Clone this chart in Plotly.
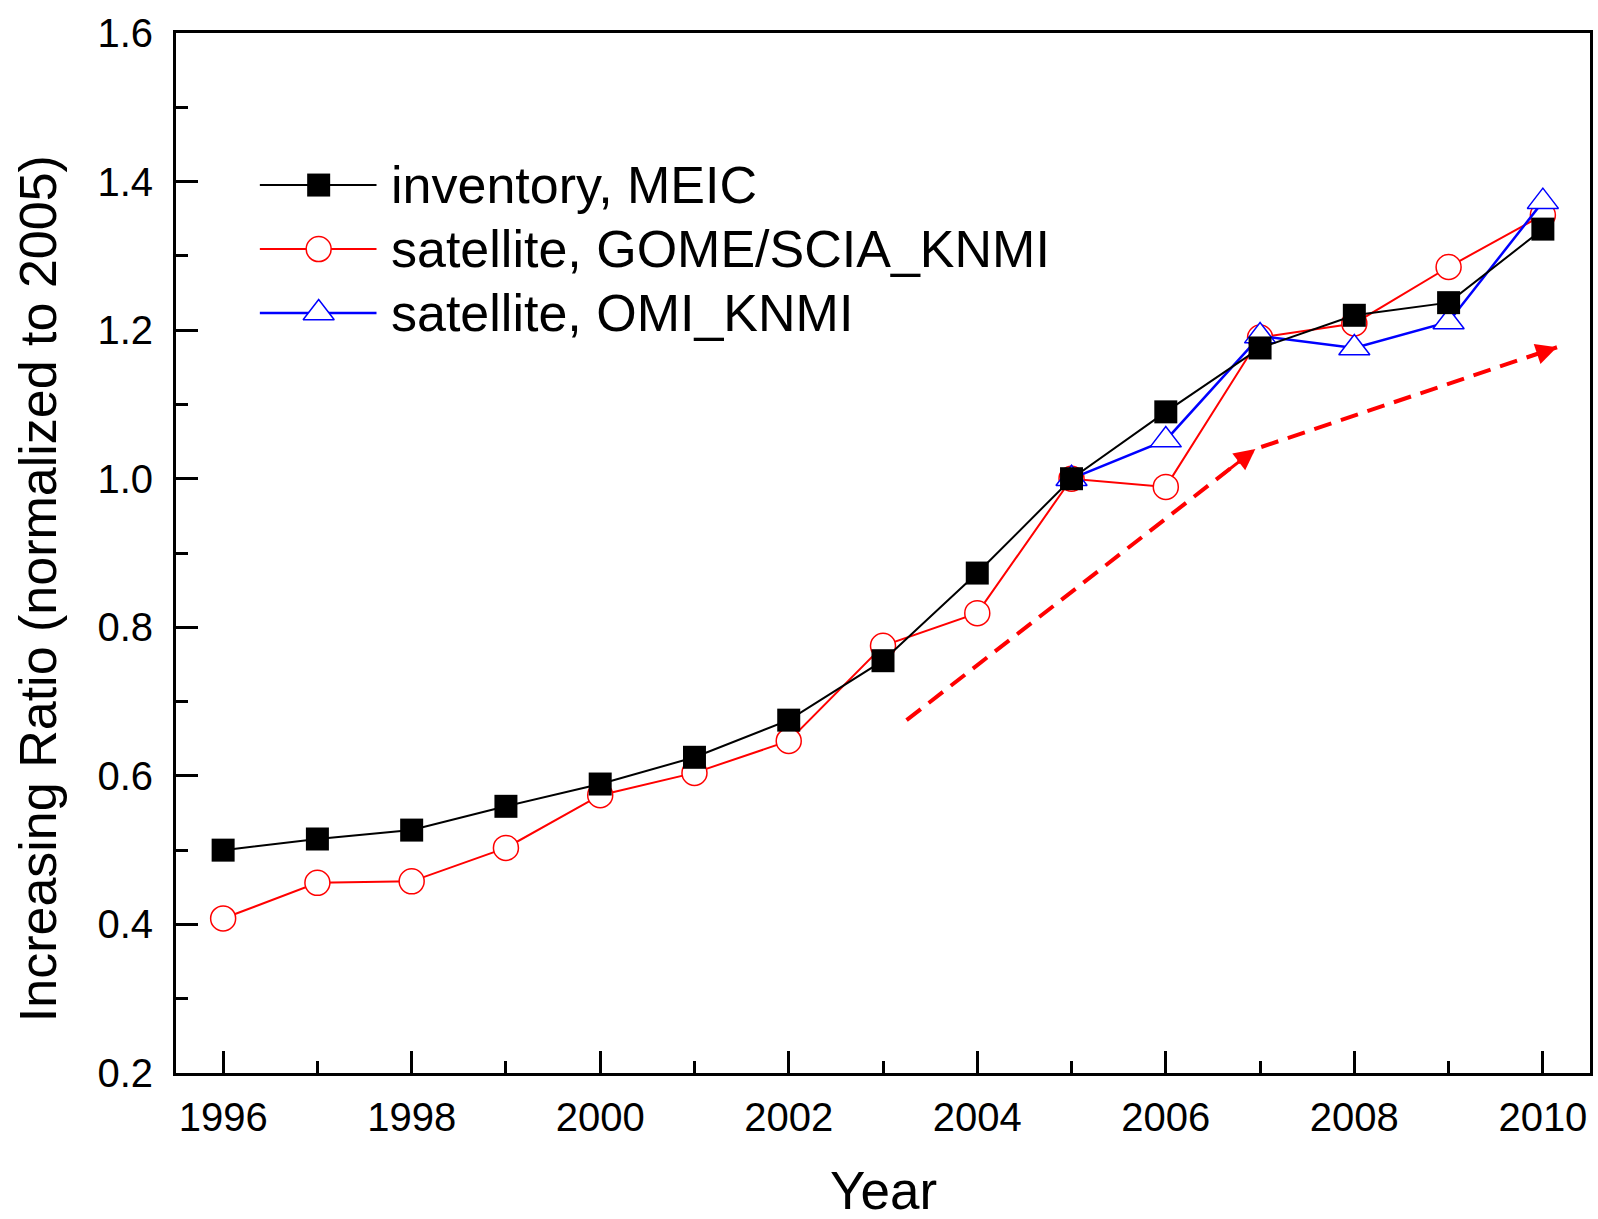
import plotly.graph_objects as go

# ---------------- data ----------------
years = [1996, 1997, 1998, 1999, 2000, 2001, 2002, 2003, 2004, 2005, 2006, 2007, 2008, 2009, 2010]
meic = [0.500, 0.515, 0.527, 0.559, 0.589, 0.625, 0.675, 0.755, 0.873, 1.000, 1.090, 1.176, 1.220, 1.237, 1.336]
gome = [0.408, 0.456, 0.458, 0.503, 0.574, 0.604, 0.647, 0.775, 0.819, 1.000, 0.989, 1.190, 1.209, 1.285, 1.355]
omi_years = [2005, 2006, 2007, 2008, 2009, 2010]
omi = [1.000, 1.052, 1.192, 1.176, 1.211, 1.373]

# red dashed trend arrow (vertices)
arrow_x = [2003.25, 2006.95, 2010.15]
arrow_y = [0.675, 1.040, 1.177]

names = ["inventory, MEIC", "satellite, GOME/SCIA_KNMI", "satellite, OMI_KNMI"]
colors = ["#000000", "#FF0000", "#0000FF"]
symbols = ["square", "circle", "triangle-up"]
msizes = [23, 25, 27]
mfill = ["#000000", "#FFFFFF", "#FFFFFF"]
lwidths = [2, 2, 2.5]

x_ticks = [1996, 1998, 2000, 2002, 2004, 2006, 2008, 2010]
y_ticks = [0.2, 0.4, 0.6, 0.8, 1.0, 1.2, 1.4, 1.6]

FONT = "Liberation Sans, Arial, sans-serif"

fig = go.Figure()

# data series (red first, blue, black on top)
fig.add_trace(go.Scatter(x=years, y=gome, mode="lines+markers",
                         line=dict(color=colors[1], width=lwidths[1]),
                         marker=dict(symbol=symbols[1], size=msizes[1], color=mfill[1],
                                     line=dict(color=colors[1], width=1.5)),
                         showlegend=False))
fig.add_trace(go.Scatter(x=omi_years, y=omi, mode="lines+markers",
                         line=dict(color=colors[2], width=lwidths[2]),
                         marker=dict(symbol=symbols[2], size=msizes[2], color=mfill[2],
                                     line=dict(color=colors[2], width=1.5)),
                         showlegend=False))
fig.add_trace(go.Scatter(x=years, y=meic, mode="lines+markers",
                         line=dict(color=colors[0], width=lwidths[0]),
                         marker=dict(symbol=symbols[0], size=msizes[0], color=mfill[0],
                                     line=dict(color=colors[0], width=0)),
                         showlegend=False))

# dashed arrow line
fig.add_trace(go.Scatter(x=arrow_x, y=arrow_y, mode="lines",
                         line=dict(color="#FF0000", width=4, dash="18px,10px"),
                         showlegend=False, hoverinfo="skip"))

# arrowheads at the vertex and at the end
for i in (1, 2):
    x0, y0 = arrow_x[i - 1], arrow_y[i - 1]
    x1, y1 = arrow_x[i], arrow_y[i]
    f = 0.1
    fig.add_annotation(x=x1, y=y1, ax=x1 - (x1 - x0) * f, ay=y1 - (y1 - y0) * f,
                       xref="x", yref="y", axref="x", ayref="y",
                       showarrow=True, arrowhead=2, arrowsize=1.4, arrowwidth=3,
                       arrowcolor="#FF0000", text="")

# custom legend (overlay axes in [0,1] plot-area fraction)
leg_x_line = [0.0593, 0.1418]
leg_x_mark = 0.1009
leg_x_text = 0.1505
leg_rows = [0.8538, 0.7923, 0.7308]
for k in range(3):
    fig.add_trace(go.Scatter(x=leg_x_line, y=[leg_rows[k]] * 2, mode="lines",
                             xaxis="x2", yaxis="y2",
                             line=dict(color=colors[k], width=lwidths[k]),
                             showlegend=False, hoverinfo="skip"))
    fig.add_trace(go.Scatter(x=[leg_x_mark], y=[leg_rows[k]], mode="markers",
                             xaxis="x2", yaxis="y2",
                             marker=dict(symbol=symbols[k], size=msizes[k], color=mfill[k],
                                         line=dict(color=colors[k], width=0 if k == 0 else 1.5)),
                             showlegend=False, hoverinfo="skip"))
    fig.add_annotation(x=leg_x_text, y=leg_rows[k], xref="paper", yref="paper",
                       text=names[k], showarrow=False, xanchor="left", yanchor="middle",
                       font=dict(family=FONT, size=52, color="#000000"))

# axis titles
fig.add_annotation(x=0.5, y=-0.1432, xref="paper", yref="paper", text="Year",
                   showarrow=False, xanchor="center", yanchor="bottom",
                   font=dict(family=FONT, size=53, color="#000000"))
fig.add_annotation(x=-0.097, y=0.466, xref="paper", yref="paper",
                   text="Increasing Ratio (normalized to 2005)", textangle=-90,
                   showarrow=False, xanchor="center", yanchor="middle",
                   font=dict(family=FONT, size=52, color="#000000"))

axis_common = dict(showline=True, linecolor="#000000", linewidth=3, mirror=True,
                   ticks="inside", ticklen=22, tickwidth=3, tickcolor="#000000",
                   showgrid=False, zeroline=False,
                   tickfont=dict(family=FONT, size=40, color="#000000"))

fig.update_layout(
    width=1598, height=1219,
    margin=dict(l=176, r=5, t=33, b=146),
    paper_bgcolor="#FFFFFF", plot_bgcolor="#FFFFFF",
    showlegend=False,
    xaxis=dict(range=[1995.5, 2010.5], tickvals=x_ticks, ticktext=[str(v) for v in x_ticks],
               ticklabelstandoff=7,
               minor=dict(dtick=1, tick0=1996, ticks="inside", ticklen=12, tickwidth=3,
                          tickcolor="#000000", showgrid=False),
               **axis_common),
    yaxis=dict(range=[0.2, 1.6], tickvals=y_ticks, ticktext=["%.1f" % v for v in y_ticks],
               ticklabelstandoff=12,
               minor=dict(dtick=0.1, tick0=0.2, ticks="inside", ticklen=12, tickwidth=3,
                          tickcolor="#000000", showgrid=False),
               **axis_common),
    xaxis2=dict(range=[0, 1], overlaying="x", visible=False, fixedrange=True),
    yaxis2=dict(range=[0, 1], overlaying="y", visible=False, fixedrange=True),
)

fig.write_html("out.html")
